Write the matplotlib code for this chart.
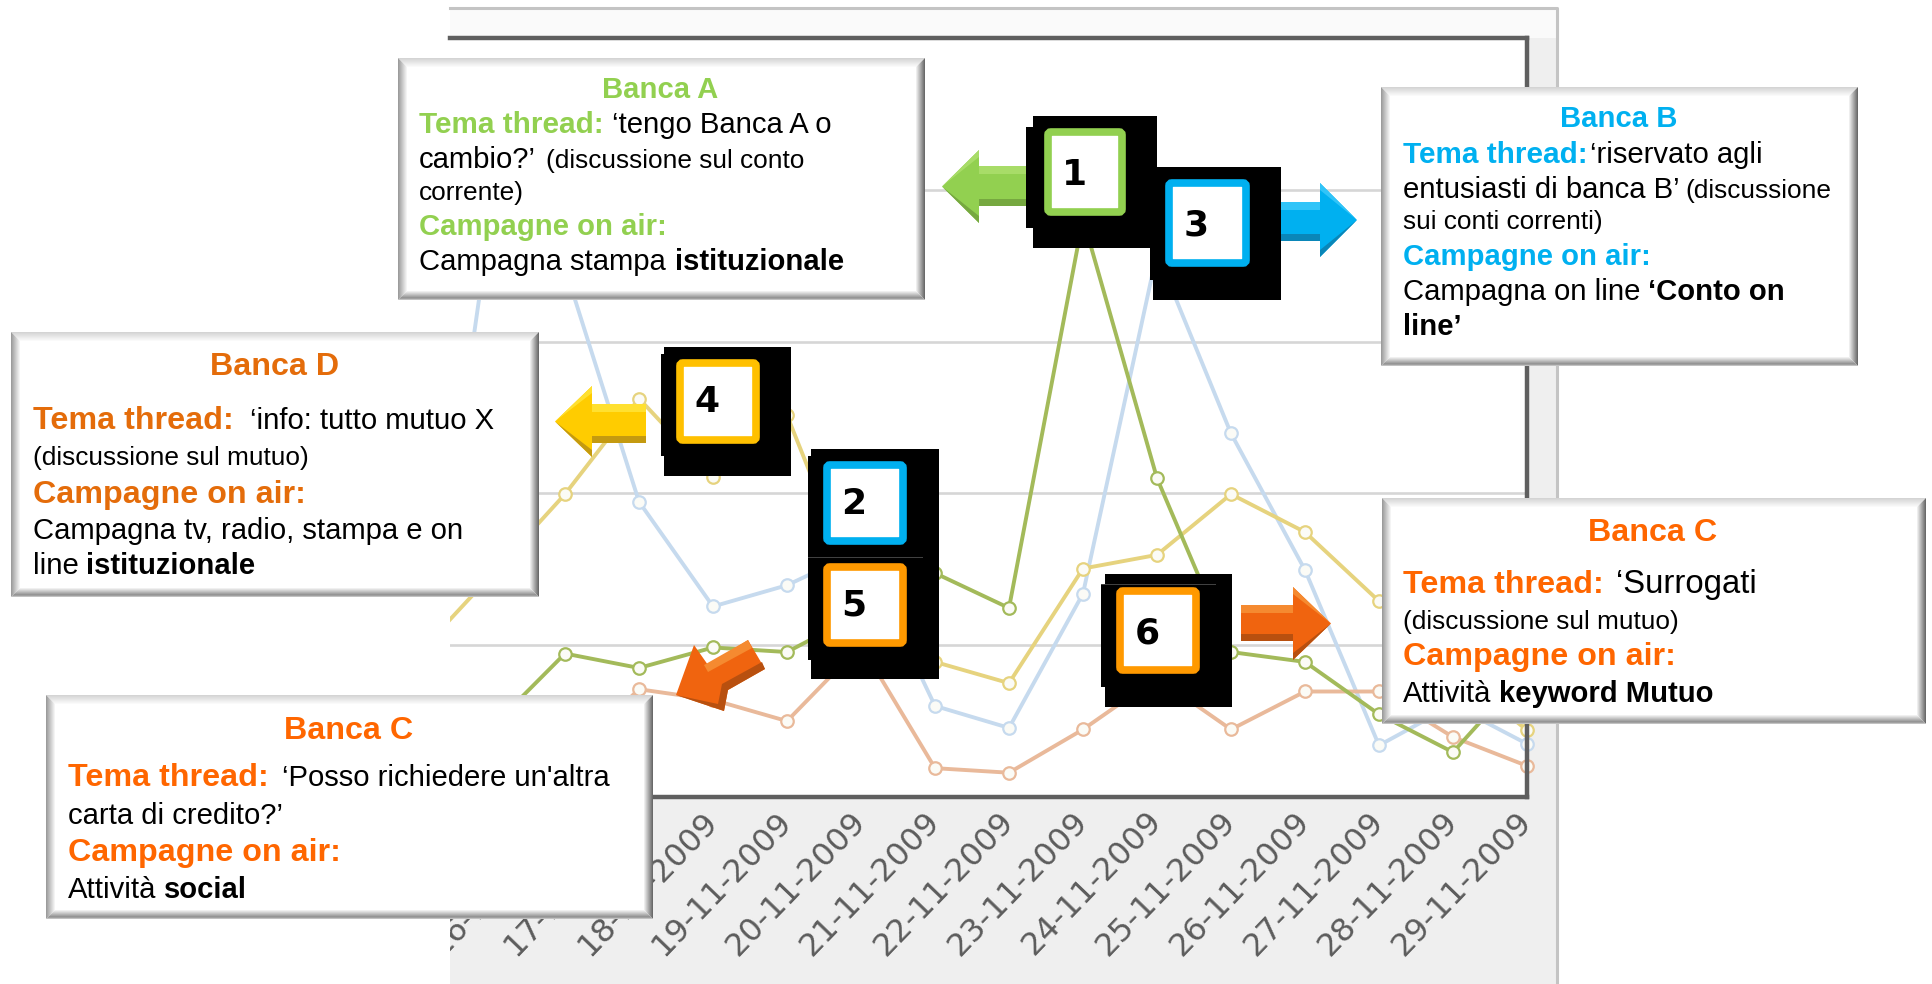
import matplotlib
matplotlib.use("Agg")
import numpy as np
import matplotlib.pyplot as plt
from matplotlib.patches import Polygon, Rectangle, FancyBboxPatch
from matplotlib.transforms import Bbox

# dati (asse y senza etichette, scala 0-100)
giorni = ['14-11-2009', '15-11-2009', '16-11-2009', '17-11-2009', '18-11-2009', '19-11-2009',
          '20-11-2009', '21-11-2009', '22-11-2009', '23-11-2009', '24-11-2009', '25-11-2009',
          '26-11-2009', '27-11-2009', '28-11-2009', '29-11-2009']
serie_gialla = [18.7, 29.2, 39.9, 52.5, 42.1, 50.3, 25.9, 17.8, 15.0, 30.1, 31.9, 39.9, 34.9, 25.8, 16.7, 8.8]
serie_azzurra = [8.4, 76.6, 69.7, 38.9, 25.1, 27.9, 32.5, 12.0, 9.1, 26.8, 71.7, 47.9, 29.9, 6.8, 12.1, 7.0]
serie_verde = [3.6, 9.1, 18.9, 17.0, 19.7, 19.1, 24.2, 29.5, 24.9, 76.2, 42.0, 19.1, 17.8, 10.9, 5.9, 16.7]
serie_arancio = [4.9, 4.9, 4.9, 14.2, 12.8, 10.0, 20.0, 3.8, 3.2, 8.9, 15.7, 8.9, 13.9, 13.9, 7.9, 4.1]

W, H = 1932, 984
ARANCIO = '#ff6600'
ARANCIO_D = '#e46c0a'
VERDE = '#92d050'
AZZURRO = '#00b0f0'
GIALLO = '#ffc000'
ARANCIO_N = '#ff9900'

plt.rcParams['font.family'] = ['Liberation Sans', 'DejaVu Sans']

fig = plt.figure(figsize=(W / 100, H / 100), dpi=100, facecolor='white')


def assi_px(x0, y0, x1, y1, **kw):
    return fig.add_axes([x0 / W, 1 - y1 / H, (x1 - x0) / W, (y1 - y0) / H], **kw)


# pannello grigio dietro al grafico
sfondo = assi_px(0, 0, W, H, zorder=0)
sfondo.set_xlim(0, W)
sfondo.set_ylim(H, 0)
sfondo.axis('off')
sfondo.add_patch(Rectangle((450, 8), 1107, 976, fc='#efefef', ec='none'))
sfondo.add_patch(Rectangle((450, 8), 1107, 30, fc='#fafafa', ec='none'))
sfondo.plot([450, 1557, 1557], [8, 8, 984], color='#c4c4c4', lw=2.2)

# grafico
ax = assi_px(450, 38, 1527, 797, zorder=1, facecolor='white')
x = np.arange(len(giorni))
ax.set_ylim(0, 100)
ax.set_yticks([20, 40, 60, 80])
ax.set_yticklabels([])
ax.grid(axis='y', color='#d6d6d6', lw=1.9)
ax.set_axisbelow(True)
ax.tick_params(length=0)
for s in ['top', 'right', 'bottom']:
    ax.spines[s].set_color('#5f5f5f')
    ax.spines[s].set_linewidth(3.2)
ax.spines['left'].set_visible(False)

for valori, col in [(serie_azzurra, '#c6daee'), (serie_arancio, '#e9b99a'),
                    (serie_gialla, '#e6d37e'), (serie_verde, '#a3ba5a')]:
    ax.plot(x, valori, color=col, lw=2.8)
    ax.plot(x[1:], valori[1:], ls='none', marker='o', ms=9, mfc='#fbfbf6', mec=col, mew=1.6, clip_on=False)

ax.set_xticks(x)
ax.set_xticklabels(giorni, rotation=46, ha='right', va='center', rotation_mode='anchor',
                   family='DejaVu Sans', fontsize=23, color='#5c5c5c')
ax.tick_params(axis='x', pad=14)
# set_xticks allarga i limiti: vanno fissati dopo
ax.set_xlim(15 - (1527 - 450) / 74.0, 15)
riquadro = Bbox.from_extents(450, 0, 1557, H)
for lab in ax.get_xticklabels():
    lab.set_clip_on(True)
    lab.set_clip_box(riquadro)

# livello sopra al grafico, in pixel
ov = assi_px(0, 0, W, H, zorder=5)
ov.set_xlim(0, W)
ov.set_ylim(H, 0)
ov.axis('off')
ov.patch.set_alpha(0)


def mescola(c, t):
    c = np.array(matplotlib.colors.to_rgb(c))
    return tuple(c + (1 - c) * t)


def riquadro_testo(x0, y0, x1, y1):
    ov.add_patch(Rectangle((x0, y0), x1 - x0, y1 - y0, fc='white', ec='none', zorder=2))
    n = 10
    for i in range(n):
        t = i / (n - 1.0)
        a0, a1 = i, i + 1
        ov.add_patch(Polygon([(x0 + a0, y0 + a0), (x1 - a0, y0 + a0), (x1 - a1, y0 + a1), (x0 + a1, y0 + a1)],
                             fc=mescola('#d4d4d4', t), ec='none', zorder=3))
        ov.add_patch(Polygon([(x0 + a0, y0 + a0), (x0 + a1, y0 + a1), (x0 + a1, y1 - a1), (x0 + a0, y1 - a0)],
                             fc=mescola('#9c9c9c', t), ec='none', zorder=3))
        ov.add_patch(Polygon([(x1 - a0, y0 + a0), (x1 - a1, y0 + a1), (x1 - a1, y1 - a1), (x1 - a0, y1 - a0)],
                             fc=mescola('#6a6a6a', t), ec='none', zorder=3))
        tb = t if i > 1 else 0.55 - 0.25 * i
        ov.add_patch(Polygon([(x0 + a0, y1 - a0), (x1 - a0, y1 - a0), (x1 - a1, y1 - a1), (x0 + a1, y1 - a1)],
                             fc=mescola('#777777', tb), ec='none', zorder=3))


def scrivi(x0, y0, testo, col='black', peso='normal', dim=21.1, ha='left'):
    ov.text(x0, y0, testo, color=col, fontweight=peso, fontsize=dim, ha=ha, va='baseline', zorder=4)


def quadro_nero(x0, y0, x1, y1, yn0, yn1, xn):
    ov.add_patch(Rectangle((x0, y0), x1 - x0, y1 - y0, fc='black', ec='none', zorder=6))
    ov.add_patch(Rectangle((xn, yn0), x0 - xn, yn1 - yn0, fc='black', ec='none', zorder=6))


def numero(x0, y0, x1, y1, col, n, nx, ny):
    ov.add_patch(FancyBboxPatch((x0 + 3, y0 + 3), x1 - x0 - 6, y1 - y0 - 6, boxstyle='round,pad=0,rounding_size=3',
                                fc='white', ec=col, lw=5.5, zorder=7))
    ov.text(nx, ny, n, family='DejaVu Sans', fontweight='bold', fontsize=26, color='black',
            ha='center', va='center', zorder=8)


def freccia(xc, xb, xp, y0, y1, ys0, ys1, chiaro, medio, scuro):
    # xc punta, xb base della testa, xp fondo del gambo; facce chiare sopra e scure sotto
    ym = (y0 + y1) / 2.0
    ov.add_patch(Polygon([(xp, ys0), (xb, ys0), (xb, y0), (xc, ym), (xb, y1), (xb, ys1), (xp, ys1)],
                         fc=medio, ec='none', zorder=5))
    ov.add_patch(Polygon([(xp, ys1 - 7), (xb, ys1 - 7), (xb, ys1), (xp, ys1)], fc=scuro, ec='none', zorder=5))
    ov.add_patch(Polygon([(xp, ys0), (xb, ys0), (xb, ys0 + 8), (xp, ys0 + 8)], fc=chiaro, ec='none', zorder=5))
    ov.add_patch(Polygon([(xb, y1), (xc, ym), (xb, y1 - 7)], fc=scuro, ec='none', zorder=5))
    ov.add_patch(Polygon([(xb, y0), (xc, ym), (xb, y0 + 7)], fc=chiaro, ec='none', zorder=5))


# testi delle box
riquadro_testo(398, 58, 925, 300)
scrivi(660, 98, 'Banca A', VERDE, 'bold', ha='center')
scrivi(419, 133, 'Tema thread:', VERDE, 'bold', dim=21.4)
scrivi(612, 133, '‘tengo Banca A o')
scrivi(419, 168, 'cambio?’')
scrivi(546, 168, '(discussione sul conto', dim=18.9)
scrivi(419, 200, 'corrente)', dim=18.9)
scrivi(419, 235, 'Campagne on air:', VERDE, 'bold')
scrivi(419, 270, 'Campagna stampa')
scrivi(675, 270, 'istituzionale', peso='bold')

riquadro_testo(1381, 87, 1858, 366)
scrivi(1619, 127, 'Banca B', AZZURRO, 'bold', ha='center')
scrivi(1403, 163, 'Tema thread:', AZZURRO, 'bold', dim=21.4)
scrivi(1590, 163, '‘riservato agli')
scrivi(1403, 198, 'entusiasti di banca B’')
scrivi(1685, 198, '(discussione', dim=18.9)
scrivi(1403, 229, 'sui conti correnti)', dim=18.9)
scrivi(1403, 265, 'Campagne on air:', AZZURRO, 'bold')
scrivi(1403, 300, 'Campagna on line')
scrivi(1648, 300, '‘Conto on', peso='bold')
scrivi(1403, 335, 'line’', peso='bold')

riquadro_testo(11, 332, 539, 597)
scrivi(275, 375, 'Banca D', ARANCIO_D, 'bold', ha='center', dim=23.2)
scrivi(33, 429, 'Tema thread:', ARANCIO_D, 'bold', dim=23.2)
scrivi(250, 429, '‘info: tutto mutuo X')
scrivi(33, 465, '(discussione sul mutuo)', dim=18.9)
scrivi(33, 503, 'Campagne on air:', ARANCIO_D, 'bold', dim=23.2)
scrivi(33, 539, 'Campagna tv, radio, stampa e on')
scrivi(33, 574, 'line')
scrivi(86, 574, 'istituzionale', peso='bold')

riquadro_testo(46, 695, 653, 919)
scrivi(349, 739, 'Banca C', ARANCIO, 'bold', ha='center', dim=23.2)
scrivi(68, 786, 'Tema thread:', ARANCIO, 'bold', dim=23.2)
scrivi(282, 786, '‘Posso richiedere un\'altra')
scrivi(68, 824, 'carta di credito?’')
scrivi(68, 861, 'Campagne on air:', ARANCIO, 'bold', dim=23.2)
scrivi(68, 898, 'Attività')
scrivi(164, 898, 'social', peso='bold')

riquadro_testo(1382, 498, 1926, 724)
scrivi(1653, 541, 'Banca C', ARANCIO, 'bold', ha='center', dim=23.2)
scrivi(1403, 593, 'Tema thread:', ARANCIO, 'bold', dim=23.2)
scrivi(1616, 593, '‘Surrogati', dim=23.7)
scrivi(1403, 629, '(discussione sul mutuo)', dim=18.9)
scrivi(1403, 665, 'Campagne on air:', ARANCIO, 'bold', dim=23.2)
scrivi(1403, 702, 'Attività')
scrivi(1499, 702, 'keyword Mutuo', peso='bold')

# frecce
freccia(942, 979, 1036, 150, 223, 166, 206, '#a8dc68', VERDE, '#76a840')
freccia(1357, 1320, 1267, 183, 257, 202, 241, '#30c4f8', AZZURRO, '#0a86b8')
freccia(555, 592, 646, 386, 457, 404, 443, '#ffe030', '#ffcc00', '#c49a10')
freccia(1331, 1293, 1241, 587, 660, 605, 641, '#f58a30', '#f0640f', '#b8500f')
# freccia in diagonale verso il basso a sinistra
ov.add_patch(Polygon([(676, 695), (694, 645), (708, 665), (748, 640), (765, 669), (728, 690), (724, 711)],
                     fc='#f0640f', ec='none', zorder=5))
ov.add_patch(Polygon([(676, 695), (724, 711), (728, 690), (765, 669), (762, 662), (722, 684), (718, 704)],
                     fc='#b8500f', ec='none', zorder=5))
ov.add_patch(Polygon([(748, 640), (752, 648), (708, 672), (704, 665)], fc='#f58a30', ec='none', zorder=5))

# quadrati neri con numero
quadro_nero(1033, 116, 1157, 248, 127, 228, 1026)
numero(1045, 129, 1125, 215, VERDE, '1', 1074, 175)
quadro_nero(1153, 167, 1281, 300, 177, 280, 1150)
numero(1166, 180, 1249, 266, AZZURRO, '3', 1196, 225)
quadro_nero(664, 347, 791, 476, 354, 456, 661)
numero(677, 360, 759, 443, GIALLO, '4', 707, 402)
quadro_nero(811, 449, 939, 679, 456, 660, 808)
numero(824, 462, 906, 544, AZZURRO, '2', 854, 504)
numero(824, 564, 906, 646, ARANCIO_N, '5', 854, 606)
ov.plot([808, 922], [557, 557], color='#444444', lw=0.7, zorder=7)
quadro_nero(1105, 574, 1232, 707, 584, 687, 1101)
numero(1117, 588, 1199, 673, ARANCIO_N, '6', 1147, 633)
ov.plot([1101, 1215], [584, 584], color='#444444', lw=0.7, zorder=7)

fig.savefig('out.png', dpi=100, facecolor='white')
